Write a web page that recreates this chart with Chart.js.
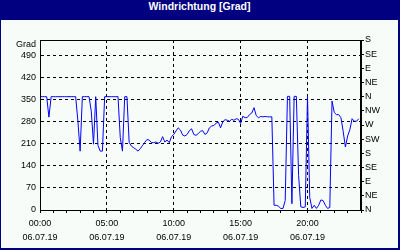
<!DOCTYPE html>
<html>
<head>
<meta charset="utf-8">
<script src="https://cdn.jsdelivr.net/npm/chart.js@4.4.1/dist/chart.umd.min.js"></script>
<style>
    html, body { margin: 0; padding: 0; background: #ffffff; }
    #rahmen {
        width: 400px; height: 250px; box-sizing: border-box;
        background: #f8fcf8;
        border-left: 1px solid #000080; border-right: 2px solid #000080; border-bottom: 2px solid #000080;
    }
    #titel {
        height: 20px; line-height: 17px; background: #000080; color: #ffffff;
        font: bold 10.5px "Liberation Sans", Arial, sans-serif; text-align: center;
    }
    #grafico { display: block; }
</style>
</head>
<body>
<div id="rahmen">
    <div id="titel">Windrichtung [Grad]</div>
    <canvas id="grafico" width="397" height="228"></canvas>
</div>
<script>
// Windrichtung alle 10 Minuten, 06.07.19 00:00 - 23:50
const intervaloMin = 10;
const richtung = [
    360, 360, 360, 360, 295, 360, 360, 360, 360, 360, 360, 360, 360, 360, 360, 360, 360,
    282, 187, 360, 360, 360, 360, 314, 209, 360, 205, 187, 187,
    360, 360, 360, 360, 360, 360, 360, 230, 187, 360, 360,
    215, 203, 198, 193, 187, 195, 205, 215, 224,
    222, 214, 214, 216, 212, 216, 233, 216, 222, 214, 233,
    240, 251, 261, 254, 238, 235, 240, 252, 258, 240,
    237, 243, 250, 252, 240, 245, 261, 267, 268, 276,
    279, 261, 280, 287, 285, 282, 288, 285, 290, 288,
    275, 298, 293, 294, 303, 308, 325, 300, 293, 297,
    296, 297, 296, 296, 296, 15, 15, 12, 5, 5,
    30, 361, 361, 20, 361, 361, 110, 10, 8, 10, 362, 40,
    5, 15, 5, 15, 32, 30, 15, 5, 8,
    346, 310, 303, 303, 293, 250, 200, 235, 255,
    290, 282, 282, 290
];
const horasEtiqueta = ['00:00', '05:00', '10:00', '15:00', '20:00'];
const fechaEtiqueta = '06.07.19';
const gradTicks = [0, 70, 140, 210, 280, 350, 420, 490];
const rumbos = ['N', 'NE', 'E', 'SE', 'S', 'SW', 'W', 'NW', 'N', 'NE', 'E', 'SE', 'S'];

const puntos = richtung.map((v, i) => ({ x: i * intervaloMin / 60, y: v }));

const fuente = { family: '"Liberation Sans", Arial, sans-serif', size: 9 };
const negro = '#000000';
const nada = 'rgba(0,0,0,0)';

// marco negro alrededor del area del grafico y texto "Grad"
const marco = {
    id: 'marco',
    afterDraw(chart) {
        const { ctx, chartArea } = chart;
        ctx.save();
        ctx.strokeStyle = negro;
        ctx.lineWidth = 1;
        ctx.strokeRect(Math.round(chartArea.left) + 0.5, Math.round(chartArea.top) + 0.5,
            Math.round(chartArea.right - chartArea.left) - 1, Math.round(chartArea.bottom - chartArea.top));
        ctx.fillStyle = negro;
        ctx.font = '9px "Liberation Sans", Arial, sans-serif';
        ctx.textAlign = 'right';
        ctx.textBaseline = 'middle';
        ctx.fillText('Grad', chartArea.left - 4, chartArea.top + 5);
        ctx.restore();
    }
};

const ctx = document.getElementById('grafico').getContext('2d');
const grafico = new Chart(ctx, {
    type: 'line',
    data: {
        datasets: [{
            data: puntos,
            borderColor: '#0000ff',
            borderWidth: 1,
            pointRadius: 0,
            tension: 0,
            fill: false
        }]
    },
    options: {
        responsive: false,
        animation: false,
        devicePixelRatio: 1,
        layout: { padding: { top: 20, left: 0, right: 0, bottom: 0 } },
        plugins: { legend: { display: false }, title: { display: false }, tooltip: { enabled: false } },
        scales: {
            x: {
                type: 'linear',
                min: 0,
                max: 24,
                afterFit: (s) => { s.height = 38; },
                ticks: {
                    stepSize: 1,
                    autoSkip: false,
                    maxRotation: 0,
                    minRotation: 0,
                    padding: 4,
                    color: negro,
                    font: { ...fuente, lineHeight: '14px' },
                    callback: (v) => {
                        if (v % 5 !== 0) return '';
                        const h = horasEtiqueta[v / 5];
                        return h ? [h, fechaEtiqueta] : '';
                    }
                },
                grid: {
                    color: (c) => (c.tick && c.tick.value % 5 === 0 && c.tick.value > 0 && c.tick.value < 24) ? negro : nada,
                    tickColor: negro,
                    tickLength: 3,
                    tickBorderDash: []
                },
                border: { color: negro, dash: [3, 3] }
            },
            y: {
                position: 'left',
                min: 0,
                max: 540,
                afterFit: (s) => { s.width = 39; },
                afterBuildTicks: (s) => { s.ticks = gradTicks.map(v => ({ value: v })); },
                ticks: { stepSize: 70, padding: 4, color: negro, font: fuente },
                grid: {
                    color: (c) => (c.tick && c.tick.value > 0) ? negro : nada,
                    drawTicks: false
                },
                border: { color: negro, dash: [3, 3] }
            },
            y2: {
                position: 'right',
                min: 0,
                max: 540,
                afterFit: (s) => { s.width = 37; },
                ticks: {
                    stepSize: 45,
                    padding: 1,
                    color: negro,
                    font: fuente,
                    callback: (v) => rumbos[Math.round(v / 45)]
                },
                grid: { drawOnChartArea: false, tickLength: 3, color: negro },
                border: { color: negro }
            }
        }
    },
    plugins: [marco]
});
</script>
</body>
</html>
